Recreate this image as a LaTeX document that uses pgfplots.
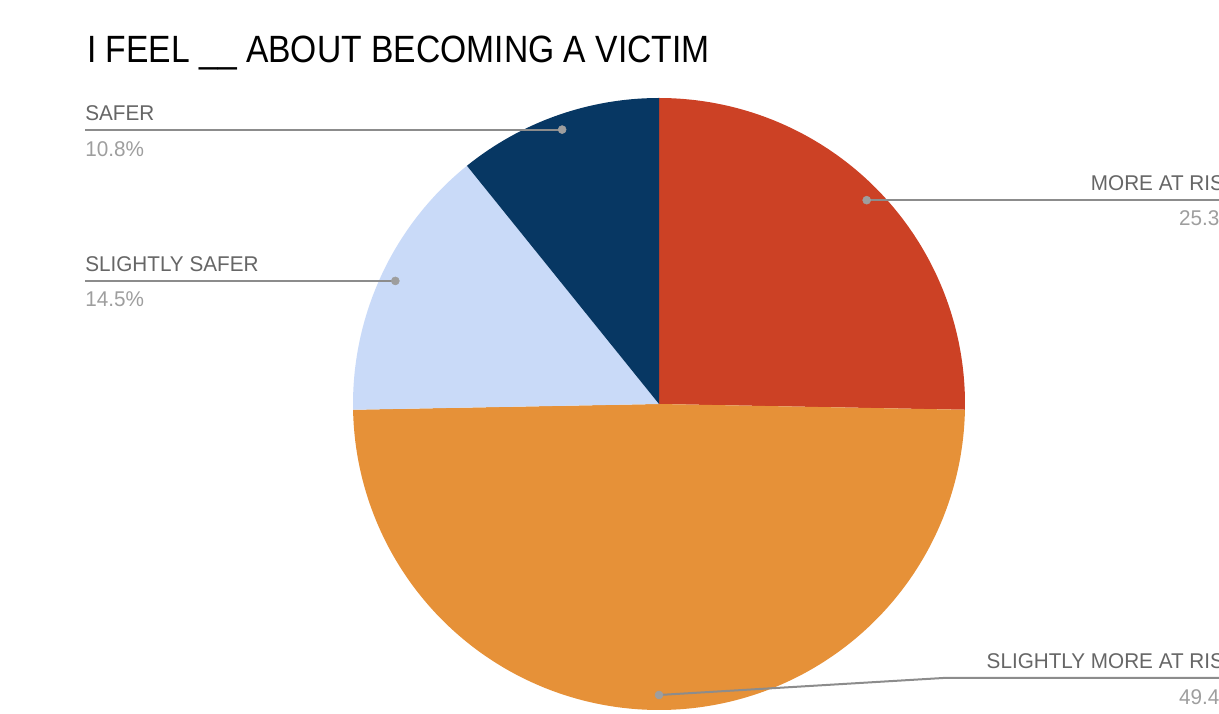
\documentclass[border=0pt]{standalone}
\usepackage{pgfplots}
\pgfplotsset{compat=1.18}
\usepackage{fontspec}
\setmainfont{Liberation Sans}
\newfontfamily\titlefont{Liberation Sans}[FakeStretch=0.885]
\newfontfamily\labelfont{Liberation Sans}[FakeStretch=0.97]
\definecolor{cRed}{HTML}{CC4125}
\definecolor{cOrange}{HTML}{E69138}
\definecolor{cLight}{HTML}{C9DAF8}
\definecolor{cNavy}{HTML}{073763}
\definecolor{cLab}{HTML}{666666}
\definecolor{cVal}{HTML}{9E9E9E}
\definecolor{cLine}{HTML}{8C8C8C}
% shares (percent), clockwise from 12 o'clock
\def\pA{25.3}% MORE AT RISK
\def\pB{49.4}% SLIGHTLY MORE AT RISK
\def\pC{14.5}% SLIGHTLY SAFER
\def\pD{10.8}% SAFER
\pgfmathsetmacro{\aZ}{90}
\pgfmathsetmacro{\aA}{\aZ-3.6*\pA}
\pgfmathsetmacro{\aB}{\aA-3.6*\pB}
\pgfmathsetmacro{\aC}{\aB-3.6*\pC}
\pgfmathsetmacro{\aD}{\aC-3.6*\pD}
\pgfmathsetmacro{\mA}{(\aZ+\aA)/2}
\pgfmathsetmacro{\mB}{(\aA+\aB)/2}
\pgfmathsetmacro{\mC}{(\aB+\aC)/2}
\pgfmathsetmacro{\mD}{(\aC+\aD)/2}
\def\R{306}
\def\Rd{291}
\pgfmathsetmacro{\xA}{\Rd*cos(\mA)}\pgfmathsetmacro{\yA}{\Rd*sin(\mA)}
\pgfmathsetmacro{\xB}{\Rd*cos(\mB)}\pgfmathsetmacro{\yB}{\Rd*sin(\mB)}
\pgfmathsetmacro{\xC}{\Rd*cos(\mC)}\pgfmathsetmacro{\yC}{\Rd*sin(\mC)}
\pgfmathsetmacro{\xD}{\Rd*cos(\mD)}\pgfmathsetmacro{\yD}{\Rd*sin(\mD)}
\begin{document}
\begin{tikzpicture}
\useasboundingbox (0,0) rectangle (914.25pt,534.75pt);
\clip (0,0) rectangle (914.25pt,534.75pt);
\begin{axis}[
  at={(494.25pt,231.75pt)}, anchor=origin,
  x=0.75pt, y=0.75pt,
  xmin=-659, xmax=560, ymin=-309, ymax=404,
  hide axis, clip=false,
]
% slices
\addplot[fill=cRed, draw=none, data cs=polar, domain=\aA:\aZ, samples=120] {\R} -- (axis cs:0,0) -- cycle;
\addplot[fill=cOrange, draw=none, data cs=polar, domain=\aB:\aA, samples=200] {\R} -- (axis cs:0,0) -- cycle;
\addplot[fill=cLight, draw=none, data cs=polar, domain=\aC:\aB, samples=80] {\R} -- (axis cs:0,0) -- cycle;
\addplot[fill=cNavy, draw=none, data cs=polar, domain=\aD:\aC, samples=80] {\R} -- (axis cs:0,0) -- cycle;
% leader lines
\draw[cLine, line width=1.5pt] (axis cs:-574,\yD) -- (axis cs:\xD,\yD);
\draw[cLine, line width=1.5pt] (axis cs:-574,\yC) -- (axis cs:\xC,\yC);
\draw[cLine, line width=1.5pt] (axis cs:\xA,\yA) -- (axis cs:620,\yA);
\draw[cLine, line width=1.5pt] (axis cs:\xB,\yB) -- (axis cs:284,-274) -- (axis cs:620,-274);
% anchor dots
\addplot[only marks, mark=*, mark size=3pt, color=cVal, data cs=polar] coordinates {(\mA,\Rd) (\mB,\Rd) (\mC,\Rd) (\mD,\Rd)};
% labels
\node[anchor=base west, text=cLab, font=\labelfont\fontsize{16}{18}\selectfont, inner sep=0pt] at (axis cs:-574,283) {SAFER};
\node[anchor=base west, text=cVal, font=\labelfont\fontsize{16}{18}\selectfont, inner sep=0pt] at (axis cs:-574,247) {10.8\%};
\node[anchor=base west, text=cLab, font=\labelfont\fontsize{16}{18}\selectfont, inner sep=0pt] at (axis cs:-574,132) {SLIGHTLY SAFER};
\node[anchor=base west, text=cVal, font=\labelfont\fontsize{16}{18}\selectfont, inner sep=0pt] at (axis cs:-574,97) {14.5\%};
\node[anchor=base east, text=cLab, font=\labelfont\fontsize{16}{18}\selectfont, inner sep=0pt] at (axis cs:579,213) {MORE AT RISK};
\node[anchor=base east, text=cVal, font=\labelfont\fontsize{16}{18}\selectfont, inner sep=0pt] at (axis cs:579,178) {25.3\%};
\node[anchor=base east, text=cLab, font=\labelfont\fontsize{16}{18}\selectfont, inner sep=0pt] at (axis cs:579,-265) {SLIGHTLY MORE AT RISK};
\node[anchor=base east, text=cVal, font=\labelfont\fontsize{16}{18}\selectfont, inner sep=0pt] at (axis cs:579,-300) {49.4\%};
% title
\node[anchor=base west, text=black, font=\titlefont\fontsize{28.5}{32}\selectfont, inner sep=0pt] at (axis cs:-572,341) {I FEEL \_\_ ABOUT BECOMING A VICTIM};
\end{axis}
\end{tikzpicture}
\end{document}
